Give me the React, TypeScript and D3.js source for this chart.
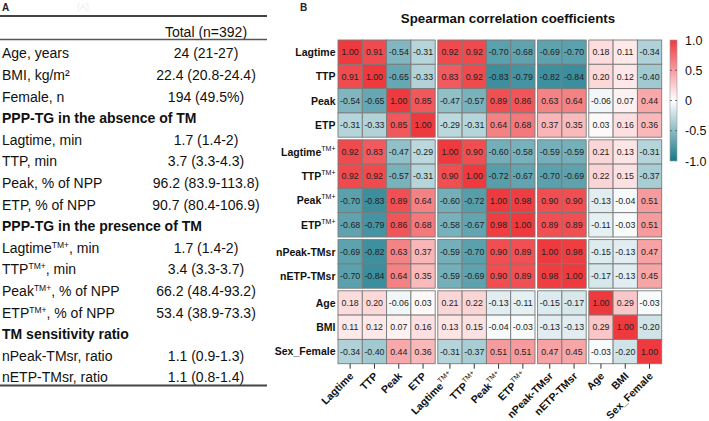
import React from "react";
import * as d3 from "d3";

// ---------- Panel A: table data ----------
const tableHeader = "Total (n=392)";
const tableLabels = [
  "Age, years", "BMI, kg/m²", "Female, n",
  "PPP-TG in the absence of TM",
  "Lagtime, min", "TTP, min", "Peak, % of NPP", "ETP, % of NPP",
  "PPP-TG in the presence of TM",
  "Lagtime|TM+|, min", "TTP|TM+|, min", "Peak|TM+|, % of NPP", "ETP|TM+|, % of NPP",
  "TM sensitivity ratio",
  "nPeak-TMsr, ratio", "nETP-TMsr, ratio",
];
const tableValues = [
  "24 (21-27)", "22.4 (20.8-24.4)", "194 (49.5%)",
  "",
  "1.7 (1.4-2)", "3.7 (3.3-4.3)", "96.2 (83.9-113.8)", "90.7 (80.4-106.9)",
  "",
  "1.7 (1.4-2)", "3.4 (3.3-3.7)", "66.2 (48.4-93.2)", "53.4 (38.9-73.3)",
  "",
  "1.1 (0.9-1.3)", "1.1 (0.8-1.4)",
];
const tableIsSection = [false, false, false, true, false, false, false, false, true, false, false, false, false, true, false, false];

// ---------- Panel B: correlation data ----------
const varNames = ["Lagtime", "TTP", "Peak", "ETP", "Lagtime", "TTP", "Peak", "ETP", "nPeak-TMsr", "nETP-TMsr", "Age", "BMI", "Sex_Female"];
const varSup = ["", "", "", "", "TM+", "TM+", "TM+", "TM+", "", "", "", "", ""];
const groupBreaks = [4, 8, 10];

const rLagtime = [1.00, 0.91, -0.54, -0.31, 0.92, 0.92, -0.70, -0.68, -0.69, -0.70, 0.18, 0.11, -0.34];
const rTTP = [0.91, 1.00, -0.65, -0.33, 0.83, 0.92, -0.83, -0.79, -0.82, -0.84, 0.20, 0.12, -0.40];
const rPeak = [-0.54, -0.65, 1.00, 0.85, -0.47, -0.57, 0.89, 0.86, 0.63, 0.64, -0.06, 0.07, 0.44];
const rETP = [-0.31, -0.33, 0.85, 1.00, -0.29, -0.31, 0.64, 0.68, 0.37, 0.35, 0.03, 0.16, 0.36];
const rLagtimeTM = [0.92, 0.83, -0.47, -0.29, 1.00, 0.90, -0.60, -0.58, -0.59, -0.59, 0.21, 0.13, -0.31];
const rTTPTM = [0.92, 0.92, -0.57, -0.31, 0.90, 1.00, -0.72, -0.67, -0.70, -0.69, 0.22, 0.15, -0.37];
const rPeakTM = [-0.70, -0.83, 0.89, 0.64, -0.60, -0.72, 1.00, 0.98, 0.90, 0.90, -0.13, -0.04, 0.51];
const rETPTM = [-0.68, -0.79, 0.86, 0.68, -0.58, -0.67, 0.98, 1.00, 0.89, 0.89, -0.11, -0.03, 0.51];
const rNPeak = [-0.69, -0.82, 0.63, 0.37, -0.59, -0.70, 0.90, 0.89, 1.00, 0.98, -0.15, -0.13, 0.47];
const rNETP = [-0.70, -0.84, 0.64, 0.35, -0.59, -0.69, 0.90, 0.89, 0.98, 1.00, -0.17, -0.13, 0.45];
const rAge = [0.18, 0.20, -0.06, 0.03, 0.21, 0.22, -0.13, -0.11, -0.15, -0.17, 1.00, 0.29, -0.03];
const rBMI = [0.11, 0.12, 0.07, 0.16, 0.13, 0.15, -0.04, -0.03, -0.13, -0.13, 0.29, 1.00, -0.20];
const rSex = [-0.34, -0.40, 0.44, 0.36, -0.31, -0.37, 0.51, 0.51, 0.47, 0.45, -0.03, -0.20, 1.00];
const corrRows = [rLagtime, rTTP, rPeak, rETP, rLagtimeTM, rTTPTM, rPeakTM, rETPTM, rNPeak, rNETP, rAge, rBMI, rSex];

const legendTicks = [1.0, 0.5, 0, -0.5, -1.0];

const FONT = "'Liberation Sans', Arial, Helvetica, sans-serif";

export default function App() {
  const W = 709, H = 421;
  // heatmap geometry
  const left = 338, top = 40, cs = 24.3, gap = 2.6;
  const n = varNames.length;
  const offset = (i: number) => i * cs + gap * groupBreaks.filter((b) => b <= i).length;
  const color = d3.scaleLinear<string>().domain([-1, 0, 1]).range(["#15788A", "#FFFFFF", "#EE3A3E"]);

  // colorbar
  const cbX = 670, cbW = 7, cbTop = 40, cbBot = 161;
  const cbScale = d3.scaleLinear().domain([1, -1]).range([cbTop, cbBot]);

  // table baselines
  const rowY = d3.scaleLinear().domain([0, tableLabels.length - 1]).range([58.3, 382.3]);

  const renderLabel = (s: string, supSize: number, dy: number) => {
    const parts = s.split("|");
    return parts.map((p, k) =>
      k % 2 === 1 ? (
        <tspan key={k} fontSize={supSize} dy={-dy}>{p}</tspan>
      ) : (
        <tspan key={k} dy={k > 0 ? dy : 0}>{p}</tspan>
      )
    );
  };

  return (
    <svg width={W} height={H} style={{ position: "absolute", left: 0, top: 0, background: "#fff" }} fontFamily={FONT}>
      <rect width={W} height={H} fill="#fff" />
      {/* Panel A */}
      <text x={2} y={11} fontSize={10} fontWeight="bold" fill="#222">A</text>
      <text x={77} y={10} fontSize={9} fill="#ececec">(A)</text>
      <line x1={0} x2={267} y1={16} y2={16} stroke="#444" strokeWidth={2} />
      <text x={206} y={37} fontSize={14} textAnchor="middle" fill="#111">{tableHeader}</text>
      <line x1={0} x2={267} y1={39.5} y2={39.5} stroke="#555" strokeWidth={1.6} />
      {tableLabels.map((lab, i) => (
        <g key={i}>
          <text x={2} y={rowY(i)} fontSize={14} fontWeight={tableIsSection[i] ? "bold" : "normal"} fill="#111">
            {renderLabel(lab, 8.5, 5)}
          </text>
          {tableValues[i] && (
            <text x={206} y={rowY(i)} fontSize={14} textAnchor="middle" fill="#111">{tableValues[i]}</text>
          )}
        </g>
      ))}
      <line x1={0} x2={267} y1={385.5} y2={385.5} stroke="#444" strokeWidth={2} />

      {/* Panel B */}
      <text x={300} y={11} fontSize={10} fontWeight="bold" fill="#222">B</text>
      <text x={508} y={23} fontSize={13.3} fontWeight="bold" textAnchor="middle" fill="#111">Spearman correlation coefficients</text>

      {corrRows.map((row, r) =>
        row.map((v, c) => {
          const x = left + offset(c), y = top + offset(r);
          return (
            <g key={`${r}-${c}`}>
              <rect x={x} y={y} width={cs} height={cs} fill={color(v)} stroke="#7a7a7a" strokeWidth={0.9} />
              <text x={x + cs / 2} y={y + cs / 2 + 3.2} fontSize={8.8} textAnchor="middle" fill="#222">{v.toFixed(2)}</text>
            </g>
          );
        })
      )}

      {/* row labels */}
      {varNames.map((nm, r) => (
        <text key={nm + r} x={335.5} y={top + offset(r) + cs / 2 + 3.8} fontSize={10.5} fontWeight="bold" textAnchor="end" fill="#111">
          <tspan>{nm}</tspan>
          {varSup[r] && <tspan fontSize={7} fontWeight="normal" dy={-5}>{varSup[r]}</tspan>}
        </text>
      ))}

      {/* x ticks and labels */}
      {varNames.map((nm, c) => {
        const cx = left + offset(c) + cs / 2;
        const yb = top + offset(n - 1) + cs;
        return (
          <g key={"x" + c}>
            <line x1={cx} x2={cx} y1={yb} y2={yb + 5} stroke="#333" strokeWidth={1} />
            <text transform={`translate(${cx + 4},${yb + 13}) rotate(-45)`} fontSize={10.5} fontWeight="bold" textAnchor="end" fill="#111">
              <tspan>{nm}</tspan>
              {varSup[c] && <tspan fontSize={7} fontWeight="normal" dy={-5}>{varSup[c]}</tspan>}
            </text>
          </g>
        );
      })}

      {/* colorbar */}
      <defs>
        <linearGradient id="cbg" x1="0" y1="0" x2="0" y2="1">
          {d3.range(0, 1.0001, 0.1).map((t) => (
            <stop key={t} offset={t} stopColor={color(1 - 2 * t)} />
          ))}
        </linearGradient>
      </defs>
      <rect x={cbX} y={cbTop} width={cbW} height={cbBot - cbTop} fill="url(#cbg)" stroke="#999" strokeWidth={0.6} />
      {legendTicks.map((t) => (
        <g key={"l" + t}>
          {Math.abs(t) < 1 && (
            <>
              <line x1={cbX} x2={cbX + 2} y1={cbScale(t)} y2={cbScale(t)} stroke="#555" strokeWidth={0.8} />
              <line x1={cbX + cbW - 2} x2={cbX + cbW} y1={cbScale(t)} y2={cbScale(t)} stroke="#555" strokeWidth={0.8} />
            </>
          )}
          <text x={685} y={cbScale(t) + 4.5} fontSize={12.5} fill="#111">{t === 0 ? "0" : t.toFixed(1)}</text>
        </g>
      ))}
    </svg>
  );
}
